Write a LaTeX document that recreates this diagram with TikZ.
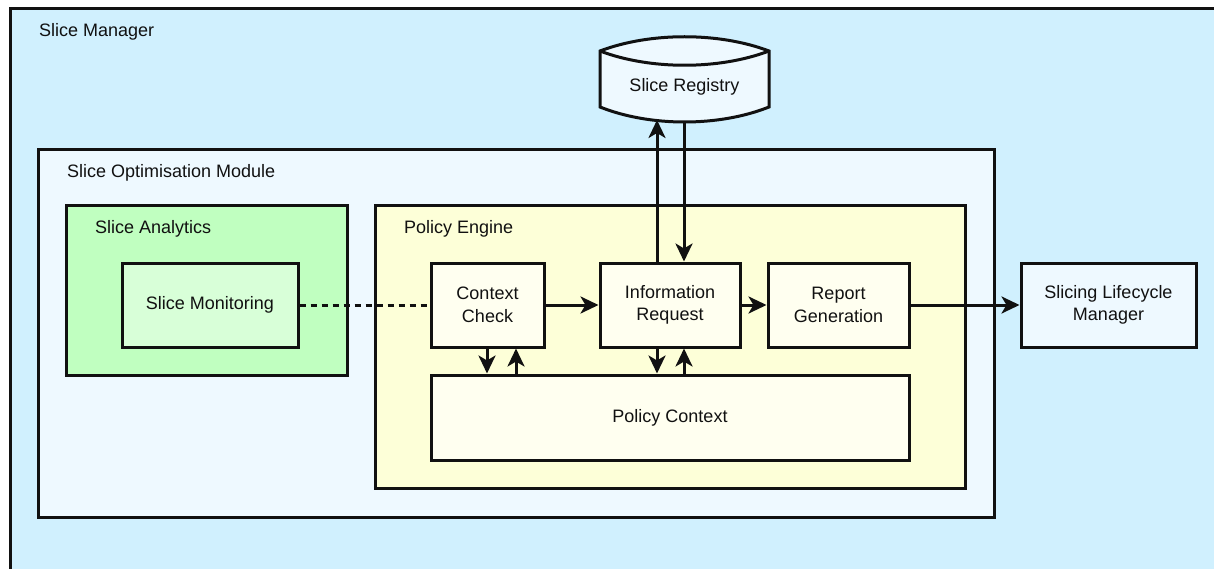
\documentclass[tikz,border=0pt]{standalone}
\usepackage{fontspec}
\setmainfont{Liberation Sans}
\usetikzlibrary{arrows.meta}
\definecolor{mgrbg}{HTML}{D0F0FE}
\definecolor{sombg}{HTML}{EEF9FF}
\definecolor{anabg}{HTML}{C0FFC0}
\definecolor{monbg}{HTML}{D8FFD8}
\definecolor{pebg}{HTML}{FDFFD8}
\definecolor{boxbg}{HTML}{FFFFF0}
\definecolor{inkc}{HTML}{111111}
\tikzset{
  border/.style={draw=inkc, line width=3pt},
  frame/.style={border, rectangle, inner sep=0pt},
  blockbox/.style={border, rectangle, inner sep=0pt, align=center, text=inkc, fill=boxbg},
  title/.style={anchor=west, inner sep=0pt, text=inkc},
  arr/.style={draw=inkc, line width=3pt, -{Stealth[length=18pt, width=17pt, inset=5pt]}},
  dashline/.style={draw=inkc, line width=3pt, dash pattern=on 6pt off 5pt},
}
\begin{document}
\begin{tikzpicture}[x=1pt, y=-1pt, font=\fontsize{18}{22.5}\selectfont]
\useasboundingbox (0,0) rectangle (1214,569);
\clip (0,0) rectangle (1214,569);

% Slice Manager (runs past the page edge)
\draw[border, fill=mgrbg] (10,9) rectangle (1240,600);
\node[title] (mgrlabel) at (39,32) {Slice Manager};

% Slice Registry data store
\draw[border, fill=sombg]
  (600,51) .. controls (650,32) and (719,32) .. (769,51)
  -- (769,107) .. controls (719,127) and (650,127) .. (600,107) -- cycle;
\draw[border] (600,51) .. controls (650,70) and (719,70) .. (769,51);
\node[text=inkc] (registry) at (684.5,87) {Slice Registry};
\coordinate (regup) at (657,120);
\coordinate (regdn) at (684,122);

% Slice Optimisation Module
\node[frame, fill=sombg, minimum width=956pt, minimum height=367pt] (som) at (516,333.5) {};
\node[title] (somlabel) at (67,173) {Slice Optimisation Module};

% Slice Analytics
\node[frame, fill=anabg, minimum width=281pt, minimum height=169pt] (ana) at (206.5,290.5) {};
\node[title] (analabel) at (95,229) {Slice Analytics};
\node[blockbox, fill=monbg, minimum width=176pt, minimum height=84pt] (mon) at (210,305) {Slice Monitoring};

% Policy Engine
\node[frame, fill=pebg, minimum width=590pt, minimum height=282pt] (pe) at (670,347) {};
\node[title] (pelabel) at (404,229) {Policy Engine};
\node[blockbox, minimum width=113pt, minimum height=84pt] (cc) at (487.5,305) {Context\\Check};
\node[blockbox, minimum width=140pt, minimum height=84pt] (ir) at (670,305) {Information\\Request};
\node[blockbox, minimum width=141pt, minimum height=84pt] (rg) at (838.5,305) {Report\\Generation};
\node[blockbox, minimum width=478pt, minimum height=85pt] (pc) at (670,417.5) {Policy Context};

% Slicing Lifecycle Manager
\node[blockbox, fill=sombg, minimum width=175pt, minimum height=84pt] (slm) at (1108.5,305) {Slicing Lifecycle\\Manager};

% Connectors
\draw[dashline] (mon.east) -- (cc.west);
\draw[arr] (cc.east) -- (ir.west);
\draw[arr] (ir.east) -- (rg.west);
\draw[arr] (rg.east) -- (slm.west);
\draw[arr] ([xshift=-13pt]ir.north) -- (regup);
\draw[arr] (regdn) -- ([xshift=14pt]ir.north);
\draw[arr] ([xshift=-0.5pt]cc.south) -- ([xshift=-0.5pt]cc.south |- pc.north);
\draw[arr] ([xshift=28.5pt]cc.south |- pc.north) -- ([xshift=28.5pt]cc.south);
\draw[arr] ([xshift=-13pt]ir.south) -- ([xshift=-13pt]ir.south |- pc.north);
\draw[arr] ([xshift=14pt]ir.south |- pc.north) -- ([xshift=14pt]ir.south);
\end{tikzpicture}
\end{document}
